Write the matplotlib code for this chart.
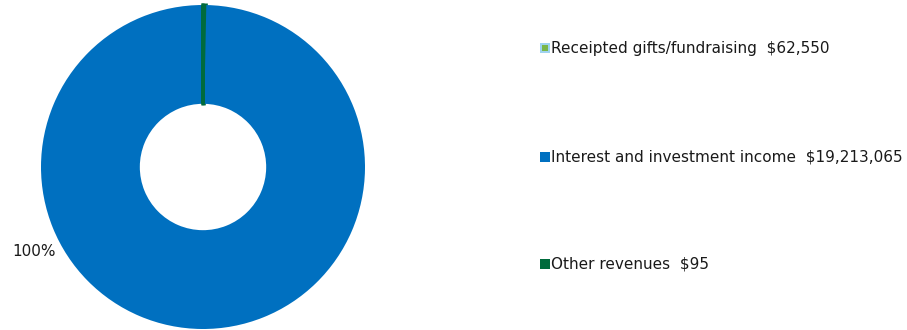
import matplotlib.pyplot as plt
from matplotlib.patches import Rectangle

# revenue sources and amounts
labels = ['Receipted gifts/fundraising', 'Interest and investment income', 'Other revenues']
amounts = [62550, 19213065, 95]
colors = ['#7ab648', '#0070c0', '#006b3c']
edges = ['#006b3c', '#0070c0', '#006b3c']
pct_text = '100%'

fig = plt.figure(figsize=(9.07, 3.30), dpi=100)

# donut axes, centred at about (203,167) px
ax = fig.add_axes([41/907, 1/330, 324/907, 324/330])
wedges, _ = ax.pie(amounts, colors=colors, startangle=90, counterclock=False,
                   radius=1.0, wedgeprops=dict(width=0.61, linewidth=0))
for w, ec in zip(wedges, edges):
    if ec != colors[1]:
        w.set_edgecolor(ec)
        w.set_linewidth(2.2)
ax.set_xlim(-1, 1)
ax.set_ylim(-1, 1)
ax.set_aspect('equal')
ax.axis('off')

# percentage label for the big slice
fig.text(12/907, 1 - 252/330, pct_text, fontsize=11, color='#1a1a1a',
         va='center', ha='left', family='DejaVu Sans')

# legend drawn by hand
rows_y = [48, 157, 264]
for lab, amt, col, y in zip(labels, amounts, colors, rows_y):
    yf = 1 - y/330
    if lab.startswith('Receipted'):
        fig.patches.append(Rectangle((540/907, yf - 5/330), 10/907, 10/330,
                                     transform=fig.transFigure, facecolor='#9fd3ef',
                                     edgecolor='none'))
        fig.patches.append(Rectangle((542/907, yf - 3/330), 6/907, 6/330,
                                     transform=fig.transFigure, facecolor=col,
                                     edgecolor='none'))
    else:
        fig.patches.append(Rectangle((540/907, yf - 5/330), 10/907, 10/330,
                                     transform=fig.transFigure, facecolor=col,
                                     edgecolor='none'))
    fig.text(551/907, yf, f'{lab}  ${amt:,}', fontsize=11, color='#1a1a1a',
             va='center', ha='left', family='DejaVu Sans')

fig.savefig('out.png', dpi=100)
